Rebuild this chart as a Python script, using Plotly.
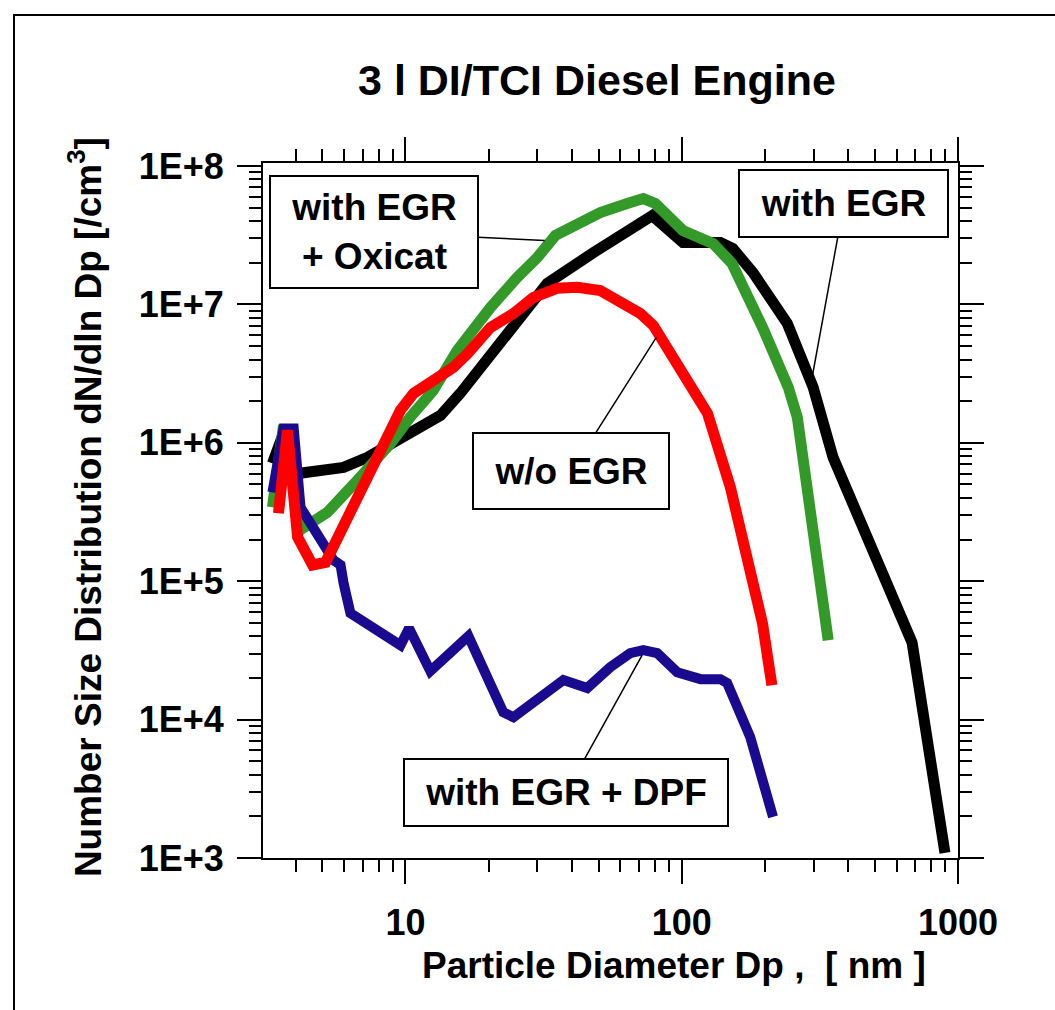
import plotly.graph_objects as go
import math

# ---- data ----
black_x = [3.30, 3.68, 4.07, 5.97, 7.29, 9.05, 13.4, 15.8, 22.1, 32.6, 47.9, 63.5, 78.2,
           101, 138, 153, 181, 241, 299, 353, 493, 602, 682, 897]
black_y = [7.1e5, 1.29e6, 6.0e5, 6.65e5, 7.85e5, 9.9e5, 1.58e6, 2.28e6, 5.5e6, 1.42e7, 2.37e7,
           3.42e7, 4.39e7, 2.8e7, 2.8e7, 2.54e7, 1.70e7, 7.3e6, 2.52e6, 7.85e5, 1.67e5, 6.7e4,
           3.6e4, 1.09e3]

green_x = [3.30, 3.62, 4.24, 5.22, 6.70, 7.66, 8.83, 10.4, 12.6, 15.4, 20.3, 25.4, 30.0, 34.9,
           50.7, 65.1, 72.6, 80.2, 101, 130, 152, 197, 243, 262, 322, 339]
green_y = [3.42e5, 1.34e6, 2.41e5, 3.15e5, 5.36e5, 7.1e5, 9.9e5, 1.53e6, 2.39e6, 4.65e6,
           9.5e6, 1.57e7, 2.18e7, 3.15e7, 4.61e7, 5.45e7, 5.82e7, 5.36e7, 3.42e7, 2.75e7,
           1.98e7, 6.7e6, 2.52e6, 1.53e6, 9.36e4, 3.75e4]

red_x = [3.47, 3.74, 4.07, 4.35, 4.61, 5.14, 8.33, 9.59, 10.7, 12.6, 14.9, 16.8, 20.3, 24.6,
         29.0, 35.5, 41.9, 50.7, 63.5, 70.8, 78.9, 90.8, 107, 124, 150, 173, 196, 212]
red_y = [3.1e5, 1.23e6, 2.08e5, 1.59e5, 1.31e5, 1.37e5, 1.04e6, 1.72e6, 2.28e6, 2.83e6,
         3.51e6, 4.43e6, 6.82e6, 8.6e6, 1.12e7, 1.31e7, 1.33e7, 1.26e7, 9.8e6, 8.6e6,
         7.05e6, 4.43e6, 2.73e6, 1.63e6, 4.77e5, 1.37e5, 4.97e4, 1.77e4]

blue_x = [3.30, 3.62, 3.94, 4.17, 5.49, 5.82, 5.97, 6.32, 9.59, 10.3, 12.3, 16.9, 22.6, 24.6,
          37.3, 45.5, 55.1, 65.1, 72.6, 81.5, 96.3, 117, 138, 146, 177, 214]
blue_y = [4.39e5, 1.27e6, 1.27e6, 3.42e5, 1.42e5, 1.31e5, 9.68e4, 5.88e4, 3.45e4, 4.58e4,
          2.24e4, 4.01e4, 1.13e4, 1.04e4, 1.93e4, 1.69e4, 2.39e4, 3.02e4, 3.18e4, 3.02e4,
          2.20e4, 1.96e4, 1.96e4, 1.84e4, 7.48e3, 1.98e3]

x_tickvals = [10, 100, 1000]
x_ticktext = ["10", "100", "1000"]
x_minor = [4, 5, 6, 7, 8, 9, 20, 30, 40, 50, 60, 70, 80, 90, 200, 300, 400, 500, 600, 700, 800, 900]
y_tickvals = [1e3, 1e4, 1e5, 1e6, 1e7, 1e8]
y_ticktext = ["1E+3", "1E+4", "1E+5", "1E+6", "1E+7", "1E+8"]
y_minor = [m * 10 ** e for e in range(3, 8) for m in range(2, 10)]

FONT = "Liberation Sans, Arial, sans-serif"

fig = go.Figure()
fig.add_trace(go.Scatter(x=black_x, y=black_y, mode="lines",
                         line=dict(color="#000000", width=11), name="with EGR"))
fig.add_trace(go.Scatter(x=green_x, y=green_y, mode="lines",
                         line=dict(color="#339a2a", width=11), name="with EGR + Oxicat"))
fig.add_trace(go.Scatter(x=blue_x, y=blue_y, mode="lines",
                         line=dict(color="#1a0a8f", width=10), name="with EGR + DPF"))
fig.add_trace(go.Scatter(x=red_x, y=red_y, mode="lines",
                         line=dict(color="#ff0000", width=11), name="w/o EGR"))

axis_common = dict(
    showgrid=False, zeroline=False, showline=True, linecolor="black", linewidth=2,
    mirror="allticks", ticks="outside", ticklen=24, tickwidth=2, tickcolor="black",
    tickfont=dict(family=FONT, size=36, color="black", weight="bold"),
)

fig.update_xaxes(type="log", range=[0.4843, 3.0], tickmode="array",
                 tickvals=x_tickvals, ticktext=x_ticktext, ticklabelstandoff=8,
                 minor=dict(tickmode="array", tickvals=x_minor, ticks="outside",
                            ticklen=12, tickwidth=2, tickcolor="black", showgrid=False),
                 **axis_common)
fig.update_yaxes(type="log", range=[3.0, 8.022], tickmode="array",
                 tickvals=y_tickvals, ticktext=y_ticktext, ticklabelstandoff=6,
                 minor=dict(tickmode="array", tickvals=y_minor, ticks="outside",
                            ticklen=12, tickwidth=2, tickcolor="black", showgrid=False),
                 **axis_common)

lab_font = dict(family=FONT, size=37, color="black", weight="bold")
ann_common = dict(xref="x", yref="y", showarrow=True, arrowhead=0, arrowwidth=1.5,
                  arrowcolor="black", bordercolor="black", borderwidth=2, borderpad=0,
                  bgcolor="white", font=lab_font, standoff=0, align="center")


def L(v):
    return math.log10(v)


annotations = [
    dict(text="with EGR<br>+ Oxicat", x=L(31.9), y=L(2.9e7), ax=-171, ay=-8,
         width=206, height=110, **ann_common),
    dict(text="with EGR", x=L(296), y=L(2.92e6), ax=32, ay=-175,
         width=207, height=65, **ann_common),
    dict(text="w/o EGR", x=L(80.9), y=L(5.78e6), ax=-85, ay=134,
         width=194, height=74, **ann_common),
    dict(text="with EGR + DPF", x=L(71.9), y=L(2.92e4), ax=-76, ay=137,
         width=322, height=65, **ann_common),
    dict(text="Number Size Distribution dN/dln Dp [/cm<sup>3</sup>]", xref="paper", yref="paper",
         x=-0.256, y=0.505, xanchor="center", yanchor="middle", textangle=-90,
         showarrow=False, font=dict(family=FONT, size=37, color="black", weight="bold")),
    dict(text="Particle Diameter Dp ,  [ nm ]", xref="paper", yref="paper",
         x=0.591, y=-0.154, xanchor="center", yanchor="middle",
         showarrow=False, font=dict(family=FONT, size=37, color="black", weight="bold")),
]

fig.update_layout(
    width=1055, height=1010,
    margin=dict(l=263, r=97, t=163, b=152, autoexpand=False),
    paper_bgcolor="white", plot_bgcolor="white",
    showlegend=False,
    title=dict(text="3 l DI/TCI Diesel Engine", x=0.4806, xref="paper", xanchor="center",
               y=1 - 80 / 1010, yref="container", yanchor="middle",
               font=dict(family=FONT, size=43, color="black", weight="bold")),
    annotations=annotations,
    shapes=[dict(type="rect", xref="paper", yref="paper",
                 x0=(14 - 263) / 695, x1=(1062 - 263) / 695,
                 y0=(858 - 1020) / 695, y1=(858 - 15) / 695,
                 line=dict(color="black", width=2), layer="below")],
)

fig.write_html("out.html")
